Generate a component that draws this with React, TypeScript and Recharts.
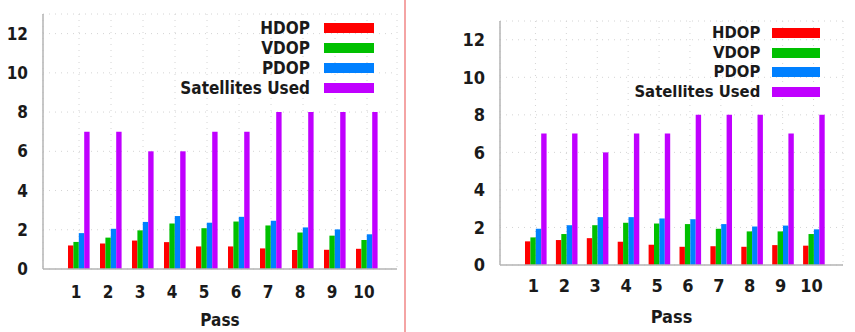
import React from 'react';
import { BarChart, Bar, XAxis, YAxis, CartesianGrid, Legend } from 'recharts';

const passes = [1, 2, 3, 4, 5, 6, 7, 8, 9, 10];
const yTicks = [0, 2, 4, 6, 8, 10, 12];
const seriesNames = ['HDOP', 'VDOP', 'PDOP', 'Satellites Used'];
const seriesColors = ['#ff0000', '#00c000', '#0080ff', '#c000ff'];

const leftHdop = [1.2, 1.3, 1.45, 1.37, 1.15, 1.15, 1.05, 0.97, 0.98, 1.03];
const leftVdop = [1.38, 1.6, 1.97, 2.32, 2.08, 2.42, 2.22, 1.86, 1.7, 1.48];
const leftPdop = [1.83, 2.05, 2.4, 2.7, 2.36, 2.66, 2.46, 2.12, 2.02, 1.77];
const leftSats = [7, 7, 6, 6, 7, 7, 8, 8, 8, 8];

const rightHdop = [1.26, 1.33, 1.43, 1.24, 1.08, 0.97, 1.0, 0.97, 1.06, 1.03];
const rightVdop = [1.47, 1.65, 2.12, 2.25, 2.21, 2.18, 1.93, 1.79, 1.79, 1.65];
const rightPdop = [1.93, 2.12, 2.55, 2.55, 2.48, 2.44, 2.18, 2.05, 2.1, 1.9];
const rightSats = [7, 7, 6, 7, 7, 8, 8, 8, 7, 8];

const buildData = (h: number[], v: number[], p: number[], s: number[]) =>
  passes.map((pass, i) => ({ pass, HDOP: h[i], VDOP: v[i], PDOP: p[i], Sats: s[i] }));

const leftData = buildData(leftHdop, leftVdop, leftPdop, leftSats);
const rightData = buildData(rightHdop, rightVdop, rightPdop, rightSats);
const keys = ['HDOP', 'VDOP', 'PDOP', 'Sats'];

const FONT = '"DejaVu Sans Condensed", "DejaVu Sans", Verdana, sans-serif';
const FRAME = '#b4b4b4';
const TEXT = '#1a1a1a';

type PanelProps = {
  data: any[];
  left: number;
  width: number;
  margin: { top: number; right: number; bottom: number; left: number };
  yAxisWidth: number;
  xAxisHeight: number;
  pad: { left: number; right: number };
  tickDx: number;
  xTickMargin: number;
  tickFont: number;
  legendFont: number;
  labelOffset: number;
  barSize: number;
  legendBox: { left: number; top: number; width: number; rowH: number; gap: number; swW: number; swH: number };
};

const Panel = (p: PanelProps) => {
  const renderLegend = () => (
    <div style={{ fontFamily: FONT, fontSize: p.legendFont, fontWeight: 'bold', color: TEXT }}>
      {seriesNames.map((n, i) => (
        <div
          key={n}
          style={{
            display: 'flex',
            justifyContent: 'flex-end',
            alignItems: 'center',
            height: p.legendBox.rowH,
            lineHeight: p.legendBox.rowH + 'px',
          }}
        >
          <span>{n}</span>
          <span
            style={{
              display: 'inline-block',
              marginLeft: p.legendBox.gap,
              width: p.legendBox.swW,
              height: p.legendBox.swH,
              background: seriesColors[i],
            }}
          />
        </div>
      ))}
    </div>
  );
  const tickStyle = { fill: TEXT, fontSize: p.tickFont, fontFamily: FONT, fontWeight: 'bold' };
  return (
    <div style={{ position: 'absolute', left: p.left, top: 0 }}>
      <BarChart width={p.width} height={332} data={p.data} margin={p.margin} barGap={0} barSize={p.barSize}>
        <CartesianGrid stroke="#d4d4d4" strokeDasharray="1 5" />
        <XAxis
          dataKey="pass"
          padding={p.pad}
          height={p.xAxisHeight}
          axisLine={{ stroke: FRAME, strokeWidth: 1.5 }}
          tickLine={false}
          tickSize={0}
          tickMargin={p.xTickMargin}
          tick={{ ...tickStyle, dx: p.tickDx }}
          label={{ value: 'Pass', position: 'insideBottom', offset: p.labelOffset, ...tickStyle }}
        />
        <XAxis
          xAxisId="top"
          orientation="top"
          dataKey="pass"
          height={0}
          tick={false}
          tickLine={false}
          axisLine={{ stroke: FRAME, strokeWidth: 1.5 }}
        />
        <YAxis
          domain={[0, 13]}
          ticks={yTicks}
          width={p.yAxisWidth}
          axisLine={{ stroke: FRAME, strokeWidth: 1.5 }}
          tickLine={false}
          tickSize={0}
          tickMargin={15}
          tick={tickStyle}
        />
        <YAxis
          yAxisId="right"
          orientation="right"
          domain={[0, 13]}
          width={0}
          tick={false}
          tickLine={false}
          axisLine={{ stroke: FRAME, strokeWidth: 1.5 }}
        />
        <Legend
          layout="horizontal"
          verticalAlign="middle"
          align="center"
          wrapperStyle={{ left: p.legendBox.left, top: p.legendBox.top, width: p.legendBox.width }}
          content={renderLegend}
        />
        {keys.map((k, i) => (
          <Bar key={k} dataKey={k} name={seriesNames[i]} fill={seriesColors[i]} isAnimationActive={false} />
        ))}
      </BarChart>
    </div>
  );
};

export default function App() {
  return (
    <div style={{ position: 'absolute', left: 0, top: 0, width: 855, height: 332, background: '#fff', overflow: 'hidden' }}>
      <Panel
        data={leftData}
        left={0}
        width={404}
        margin={{ top: 14, right: 7, bottom: 0, left: 0 }}
        yAxisWidth={43}
        xAxisHeight={63}
        pad={{ left: 20, right: 14 }}
        tickDx={-3}
        xTickMargin={17}
        tickFont={17}
        legendFont={17}
        labelOffset={6}
        barSize={5.4}
        legendBox={{ left: 104, top: 17.7, width: 270, rowH: 20, gap: 14, swW: 50, swH: 10 }}
      />
      <div style={{ position: 'absolute', left: 404, top: 0, width: 1.5, height: 332, background: '#f4a4a4' }} />
      <Panel
        data={rightData}
        left={410}
        width={445}
        margin={{ top: 21, right: 12, bottom: 0, left: 0 }}
        yAxisWidth={90}
        xAxisHeight={67}
        pad={{ left: 20, right: 14 }}
        tickDx={-2}
        xTickMargin={14}
        tickFont={18}
        legendFont={16.5}
        labelOffset={9.5}
        barSize={5.4}
        legendBox={{ left: 160, top: 23.2, width: 250, rowH: 19.6, gap: 11.7, swW: 48, swH: 10 }}
      />
    </div>
  );
}
